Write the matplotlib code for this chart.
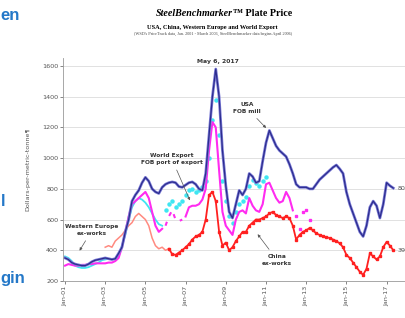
import numpy as np
import matplotlib
matplotlib.use("Agg")
import matplotlib.pyplot as plt

# --- data: bimonthly readings (Jan, Mar, May, Jul, Sep, Nov), $/tonne ---
usa = [350, 340, 320, 310, 305, 300,
       300, 310, 325, 335, 340, 345,
       350, 345, 340, 345, 380, 420,
       520, 600, 720, 760, 790, 840,
       875, 850, 800, 780, 770, 810,
       830, 840, 845, 840, 815, 810,
       825, 840, 845, 830, 800, 790,
       900, 1150, 1400, 1580, 1400, 1050,
       820, 650, 610, 700, 790, 760,
       800, 900, 880, 840, 850, 980,
       1100, 1180, 1130, 1080, 1050, 1030,
       1010, 960, 900, 830, 810, 810,
       810, 800, 800, 830, 860, 880,
       900, 920, 940, 955, 930, 900,
       780, 700, 640, 580, 520, 490,
       560, 680, 720, 690, 610, 700,
       840, 820, 805]

# Western Europe ex-works
weu_line = [360, 350, 330, 300, 290, 285,
            285, 290, 300, 310, 320, 335,
            340, 345, 340, 345, 360, 430,
            500, 600, 680, 720, 740, 730,
            710, 680, 640, 600, 570, 560]
weu_dots = [660, 700, 720, 680, 700, 720,
            760, 790, 800, 780, 790, 810,
            850, 1000, 1250, 1380, 1150, 850,
            720, 620, 580, 650, 700, 720,
            750, 820, 860, 840, 820, 850,
            880]

# World export FOB port of export
wex_a = [300, 310, 305, 300, 300, 305,
         305, 310, 310, 315, 315, 315,
         315, 320, 320, 330, 350, 420,
         520, 620, 700, 720, 740, 760,
         780, 740, 650, 560, 520, 540]
wex_b = [560, 620, 660, 600, 590, 600]
wex_c = [620, 680, 690, 690, 700, 730,
         800, 1050, 1235, 1200, 920, 650,
         560, 530, 500, 600, 650, 660,
         640, 740, 690, 660, 650, 700,
         830, 840, 790, 740, 710, 720,
         780, 740, 660]
wex_d = [620, 540, 650, 660, 600]

# China ex-works (PriceTrack, then SteelBenchmarker)
china_pt = [420, 430, 420, 460, 480, 500,
            530, 560, 580, 620, 640, 620,
            600, 560, 480, 430, 410, 420,
            400, 410]
china_sb = [410, 375, 370, 385, 400,
            420, 440, 470, 490, 500, 520,
            600, 760, 780, 720, 520, 430,
            450, 400, 420, 460, 490, 520,
            520, 560, 580, 600, 600, 610,
            620, 640, 650, 630, 620, 610,
            620, 610, 560, 470, 500, 520,
            530, 545, 530, 510, 500, 490,
            485, 480, 470, 460, 445, 420,
            370, 350, 320, 290, 260, 240,
            280, 380, 360, 340, 360, 420,
            455, 430, 400]

tick_years = [2001, 2003, 2005, 2007, 2009, 2011, 2013, 2015, 2017]
tick_labels = ["Jan-01", "Jan-03", "Jan-05", "Jan-07", "Jan-09",
               "Jan-11", "Jan-13", "Jan-15", "Jan-17"]


def bimonthly(year, month, values):
    return year + (month - 1) / 12 + np.arange(len(values)) / 6


navy = "#2c2c8e"
navy_m = "#7b7bd6"
red = "#ff2020"
salmon = "#ff8a80"
magenta = "#ff2bf0"
cyan = "#3fe6f2"

fig = plt.figure(figsize=(4.06, 3.18), dpi=100)
ax = fig.add_axes([63 / 406, 37 / 318, 367 / 406, 223 / 318])

# western europe
ax.plot(bimonthly(2001, 1, weu_line), weu_line, color=cyan, lw=1.3)
ax.plot(bimonthly(2006, 1, weu_dots), weu_dots, color=cyan, lw=0,
        marker="o", ms=2.2)

# world export
ax.plot(bimonthly(2001, 1, wex_a), wex_a, color=magenta, lw=1.5)
ax.plot(bimonthly(2006, 1, wex_b), wex_b, color=magenta, lw=1.5,
        ls=(0, (2, 3)))
ax.plot(bimonthly(2007, 1, wex_c), wex_c, color=magenta, lw=1.5)
ax.plot(bimonthly(2012, 7, wex_d), wex_d, color=magenta, lw=0,
        marker="s", ms=1.8)

# china
ax.plot(bimonthly(2003, 1, china_pt), china_pt, color=salmon, lw=1.1)
ax.plot(bimonthly(2006, 3, china_sb), china_sb, color=red, lw=1.3,
        marker="s", ms=1.5, mec=red)

# usa
ax.plot(bimonthly(2001, 1, usa), usa, color=navy_m, lw=2.0)
ax.plot(bimonthly(2001, 1, usa), usa, color=navy, lw=0.9)

ax.set_xlim(2000.9, 2001 + 365 / 20.1)
ax.set_ylim(200, 1652)
ax.set_yticks(range(200, 1601, 200))
ax.set_xticks(tick_years)
ax.set_xticklabels(tick_labels, rotation=90)
ax.tick_params(labelsize=4.6, colors="#555555", length=2, width=0.5, pad=1.5)
ax.grid(axis="y", color="#dcdcdc", lw=0.6)
ax.set_axisbelow(True)
for s in ["top", "right"]:
    ax.spines[s].set_visible(False)
for s in ["left", "bottom"]:
    ax.spines[s].set_color("#999999")
    ax.spines[s].set_linewidth(0.6)

ax.set_ylabel("Dollars-per-metric-tonne\u00b6", fontsize=4.6, color="#555555",
              labelpad=8)

ann = dict(fontsize=4.2, fontweight="bold", color="#333333", ha="center",
           va="center", linespacing=1.3)
arrow = dict(arrowstyle="-|>", color="#555555", lw=0.5, mutation_scale=4)
ax.annotate("Western Europe\nex-works", xy=(2001.65, 382), xytext=(2002.35, 532),
            arrowprops=arrow, **ann)
ax.annotate("World Export\nFOB port of export", xy=(2007.27, 708),
            xytext=(2006.32, 994), arrowprops=arrow, **ann)
ax.annotate("USA\nFOB mill", xy=(2011.1, 1183), xytext=(2010.05, 1326),
            arrowprops=arrow, **ann)
ax.annotate("China\nex-works", xy=(2010.5, 519), xytext=(2011.55, 337),
            arrowprops=arrow, **ann)
ax.text(2008.6, 1632, "May 6, 2017", fontsize=4.4, fontweight="bold",
        color="#333333", ha="center", va="center")
ax.text(2017.55, 805, "80", fontsize=4.6, color="#555555", va="center")
ax.text(2017.55, 400, "39", fontsize=4.6, color="#555555", va="center")

# titles
fig.text(233 / 406, 1 - 13 / 318, "SteelBenchmarker", family="Liberation Serif",
         style="italic", weight="bold", fontsize=7.2, ha="right", va="center")
fig.text(233 / 406, 1 - 13 / 318, "\u2122 Plate Price", family="Liberation Serif",
         weight="bold", fontsize=7.2, ha="left", va="center")
fig.text(212 / 406, 1 - 27 / 318, "USA, China, Western Europe and World Export",
         family="Liberation Serif", weight="bold", fontsize=4.6, ha="center",
         va="center")
fig.text(213 / 406, 1 - 33.5 / 318,
         "(WSD's PriceTrack data, Jan. 2001 - March 2006, SteelBenchmarker data begins April 2006)",
         family="Liberation Serif", fontsize=3.1, ha="center", va="center",
         color="#444444")

# page fragments at left edge
blue = "#2478c8"
fig.text(0, 1 - 16 / 318, "en", fontsize=12, weight="bold", color=blue,
         family="Liberation Sans", va="center")
fig.text(0.002, 1 - 202 / 318, "l", fontsize=12, weight="bold", color=blue,
         family="Liberation Sans", va="center")
fig.text(0, 1 - 278 / 318, "gin", fontsize=12, weight="bold", color=blue,
         family="Liberation Sans", va="center")

fig.savefig("out.png", dpi=100)
